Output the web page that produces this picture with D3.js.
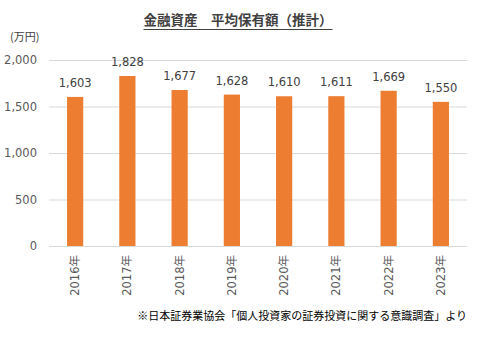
<!DOCTYPE html>
<html><head><meta charset="utf-8">
<script src="https://cdn.jsdelivr.net/npm/d3@7"></script>
<style>body{margin:0;background:#fff}svg{display:block}text{font-family:"Noto Sans CJK JP","Noto Sans",sans-serif}.num{font-family:"DejaVu Sans","Noto Sans CJK JP",sans-serif}</style>
</head><body><svg id="c" width="477" height="338"></svg>
<script>
const categories = ["2016年","2017年","2018年","2019年","2020年","2021年","2022年","2023年"];
const values = [1603,1828,1677,1628,1610,1611,1669,1550];
const yTicks = [0,500,1000,1500,2000];
const title = "金融資産　平均保有額（推計）";
const unit = "(万円)";
const note = "※日本証券業協会「個人投資家の証券投資に関する意識調査」より";

const svg = d3.select("#c");
const m = {l:49, r:467, t:60, b:246};
const x = d3.scaleBand().domain(categories).range([m.l, m.r]).paddingInner(0.69).paddingOuter(0.345);
const y = d3.scaleLinear().domain([0,2000]).range([m.b, m.t]);

svg.append("g").selectAll("line").data(yTicks).join("line")
  .attr("x1", m.l).attr("x2", m.r).attr("y1", d=>y(d)+0.5).attr("y2", d=>y(d)+0.5)
  .attr("stroke", "#d9d9d9").attr("stroke-width", 1);

const yAxis = svg.append("g").attr("transform", `translate(${m.l},0)`)
  .call(d3.axisLeft(y).tickValues(yTicks).tickSize(0).tickPadding(12).tickFormat(d3.format(",")));
yAxis.select(".domain").remove();
yAxis.selectAll("text").attr("class","num").attr("fill","#595959").style("font-size","11.5px");

svg.append("g").selectAll("rect").data(values).join("rect")
  .attr("x", (d,i)=>x(categories[i])).attr("width", x.bandwidth())
  .attr("y", d=>y(d)).attr("height", d=>y(0)-y(d)).attr("fill","#ED7D31");

svg.append("g").selectAll("text").data(values).join("text")
  .attr("class","num")
  .attr("x", (d,i)=>x(categories[i])+x.bandwidth()/2).attr("y", d=>y(d)-10)
  .attr("text-anchor","middle").attr("fill","#404040").style("font-size","11.5px")
  .text(d=>d3.format(",")(d));

const xAxis = svg.append("g").attr("transform", `translate(0,${m.b})`)
  .call(d3.axisBottom(x).tickSize(0).tickPadding(0));
xAxis.select(".domain").remove();
xAxis.selectAll("text").attr("class","num").attr("fill","#595959").style("font-size","11.5px")
  .attr("text-anchor","end").attr("dy","0.35em")
  .attr("transform","translate(0,9) rotate(-90)").attr("x",0).attr("y",0);

const t = svg.append("text").attr("x", 238).attr("y", 25).attr("text-anchor","middle")
  .attr("fill","#404040").style("font-size","13.5px").style("font-weight","bold").text(title);
const bb = t.node().getBBox();
svg.append("line").attr("x1", bb.x).attr("x2", bb.x+bb.width).attr("y1", 29.5).attr("y2", 29.5)
  .attr("stroke","#404040").attr("stroke-width",1);

svg.append("text").attr("x", 10).attr("y", 41).attr("fill","#404040").style("font-size","11px").text(unit);
svg.append("text").attr("x", 467).attr("y", 320).attr("text-anchor","end").attr("fill","#000").style("font-size","11px").text(note);
</script></body></html>
